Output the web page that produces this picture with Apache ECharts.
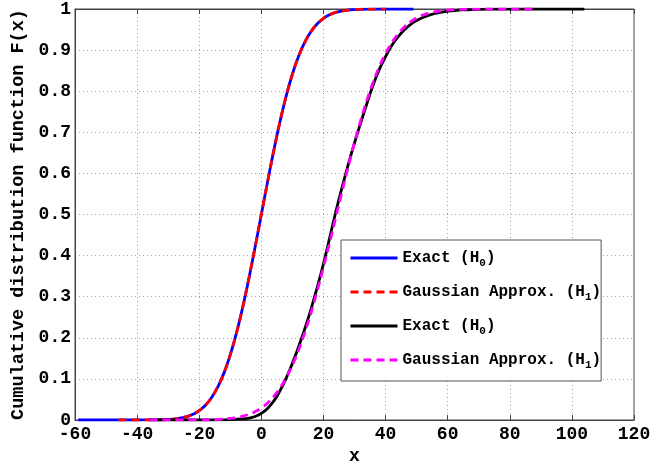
<!DOCTYPE html>
<html>
<head>
<meta charset="utf-8">
<script src="https://cdn.jsdelivr.net/npm/echarts@6/dist/echarts.min.js"></script>
<style>
html,body{margin:0;padding:0;background:#fff;}
#c{width:661px;height:461px;}
</style>
</head>
<body>
<div id="c"></div>
<script>
// ---- data ----
var xTicks = [-60, -40, -20, 0, 20, 40, 60, 80, 100, 120];
var yTicks = [0, 0.1, 0.2, 0.3, 0.4, 0.5, 0.6, 0.7, 0.8, 0.9, 1];

var names = ['Exact (H0)', 'Gaussian Approx. (H1)', 'Exact (H0)\u200b', 'Gaussian Approx. (H1)\u200b'];

// Exact, H0 (blue)
var exactH0X = [-59, -45, -40, -35, -30, -27, -24, -22, -20, -18, -16, -14, -12, -10, -8, -6, -4, -2, 0, 2, 4, 6, 8, 10, 12, 14, 16, 18, 20, 22, 24, 27, 30, 35, 40, 49];
var exactH0Y = [0, 0, 0.00003, 0.0002, 0.0013, 0.0035, 0.0082, 0.0139, 0.0228, 0.0359, 0.0548, 0.0808, 0.1151, 0.1587, 0.2119, 0.2743, 0.3446, 0.4207, 0.5, 0.5793, 0.6554, 0.7257, 0.7881, 0.8413, 0.8849, 0.9192, 0.9452, 0.9641, 0.9772, 0.9861, 0.9918, 0.9965, 0.9987, 0.9998, 1, 1];

// Gaussian approximation, H0 (red dashed)
var gaussH0X = [-46, -40, -35, -30, -27, -24, -22, -20, -18, -16, -14, -12, -10, -8, -6, -4, -2, 0, 2, 4, 6, 8, 10, 12, 14, 16, 18, 20, 22, 24, 27, 30, 35, 40];
var gaussH0Y = [0, 0.00003, 0.0002, 0.0013, 0.0035, 0.0082, 0.014, 0.023, 0.036, 0.055, 0.081, 0.115, 0.159, 0.212, 0.274, 0.345, 0.421, 0.5, 0.579, 0.655, 0.726, 0.788, 0.841, 0.885, 0.919, 0.945, 0.964, 0.977, 0.986, 0.992, 0.9965, 0.9987, 0.9998, 1];

// Exact, H1 (black)
var exactH1X = [-36, -20, -14, -10, -6, -4, -2, 0, 2, 4, 6, 8, 10, 12, 14, 16, 18, 20, 22, 24, 26, 28, 30, 32, 34, 36, 38, 40, 42, 44, 46, 48, 50, 54, 58, 62, 66, 70, 75, 80, 90, 104];
var exactH1Y = [0, 0.00002, 0.0002, 0.0008, 0.0025, 0.0045, 0.0085, 0.016, 0.028, 0.046, 0.071, 0.102, 0.138, 0.178, 0.222, 0.27, 0.323, 0.38, 0.443, 0.507, 0.566, 0.622, 0.674, 0.723, 0.77, 0.815, 0.853, 0.884, 0.911, 0.932, 0.949, 0.962, 0.972, 0.985, 0.9925, 0.9963, 0.9982, 0.9992, 0.9997, 0.9999, 1, 1];

// Gaussian approximation, H1 (magenta dashed)
var gaussH1X = [-36, -20, -14, -10, -8, -6, -4, -2, 0, 2, 4, 6, 8, 10, 12, 14, 16, 18, 20, 22, 24, 26, 28, 30, 32, 34, 36, 38, 40, 42, 44, 46, 48, 50, 52, 54, 56, 58, 60, 65, 70, 75, 88];
var gaussH1Y = [0, 0.0003, 0.0014, 0.0038, 0.0059, 0.0092, 0.0138, 0.0203, 0.0293, 0.0415, 0.0573, 0.0775, 0.1028, 0.1337, 0.1703, 0.2128, 0.2608, 0.3142, 0.3715, 0.4318, 0.4938, 0.5559, 0.6167, 0.6748, 0.7288, 0.7781, 0.8217, 0.8595, 0.8914, 0.9179, 0.939, 0.9557, 0.9685, 0.9781, 0.9851, 0.99, 0.9935, 0.9959, 0.9974, 0.9993, 0.9998, 1, 1];

function pairs(xs, ys) { return xs.map(function (x, i) { return [x, ys[i]]; }); }

var MONO = '"Liberation Mono", "DejaVu Sans Mono", monospace';
var chart = echarts.init(document.getElementById('c'), null, {renderer: 'canvas'});

function lineSeries(name, xs, ys, color, dashed) {
  return {
    name: name,
    type: 'line',
    data: pairs(xs, ys),
    showSymbol: false,
    symbol: 'none',
    smooth: true,
    silent: true,
    lineStyle: {color: color, width: 2.8, type: dashed ? [8, 5] : 'solid'},
    itemStyle: {color: color}
  };
}

var option = {
  animation: false,
  backgroundColor: '#fff',
  grid: {left: 75, right: 27, top: 9, bottom: 41, show: true, borderColor: '#444', borderWidth: 1, backgroundColor: 'transparent', outerBoundsMode: 'none'},
  xAxis: [{
    type: 'value', min: -60, max: 120, interval: 20,
    name: 'x', nameLocation: 'middle', nameGap: 19,
    nameTextStyle: {fontFamily: MONO, fontWeight: 'bold', fontSize: 18, color: '#000'},
    axisLine: {show: true, onZero: false, lineStyle: {color: '#444', width: 1}},
    axisTick: {show: true, inside: true, length: 5, lineStyle: {color: '#444'}},
    axisLabel: {fontFamily: MONO, fontWeight: 'bold', fontSize: 18, color: '#000', margin: 5,
      formatter: function (v) { return xTicks.indexOf(v) >= 0 ? String(v) : ''; }},
    splitLine: {show: true, lineStyle: {color: '#a8a8a8', width: 1, type: [1, 3]}}
  }, {
    type: 'value', position: 'top', min: -60, max: 120, interval: 20,
    axisLine: {show: true, onZero: false, lineStyle: {color: '#444', width: 1}},
    axisLabel: {show: false}, splitLine: {show: false},
    axisTick: {show: true, inside: true, length: 5, lineStyle: {color: '#444'}}
  }],
  yAxis: {
    type: 'value', min: 0, max: 1, interval: 0.1,
    name: 'Cumulative distribution function F(x)', nameLocation: 'middle', nameGap: 44,
    nameTextStyle: {fontFamily: MONO, fontWeight: 'bold', fontSize: 18.5, color: '#000'},
    axisLine: {show: true, onZero: false, lineStyle: {color: '#444', width: 1}},
    axisTick: {show: false},
    axisLabel: {fontFamily: MONO, fontWeight: 'bold', fontSize: 18, color: '#000', margin: 4,
      formatter: function (v) {
        for (var i = 0; i < yTicks.length; i++) { if (Math.abs(yTicks[i] - v) < 1e-9) return String(yTicks[i]); }
        return '';
      }},
    splitLine: {show: true, lineStyle: {color: '#a8a8a8', width: 1, type: [1, 3]}}
  },
  legend: {
    orient: 'vertical', left: 341, top: 240,
    backgroundColor: '#fff', borderColor: '#555', borderWidth: 1,
    padding: [10, 0, 10, 8],
    itemWidth: 47, itemHeight: 14, itemGap: 15,
    selectedMode: false,
    itemStyle: {opacity: 0},
    lineStyle: {width: 3},
    data: names,
    formatter: function (n) {
      var s = n.replace('\u200b', '');
      var m = s.match(/^(.*\(H)(\d)(\))$/);
      return '{t|' + m[1] + '}{s|' + m[2] + '}{t|' + m[3] + '}';
    },
    textStyle: {
      color: '#000', fontFamily: MONO, fontWeight: 'bold', fontSize: 16,
      rich: {
        t: {fontFamily: MONO, fontWeight: 'bold', fontSize: 16, color: '#000', lineHeight: 22, verticalAlign: 'middle'},
        s: {fontFamily: MONO, fontWeight: 'bold', fontSize: 11, color: '#000', lineHeight: 12, verticalAlign: 'bottom'}
      }
    }
  },
  series: [
    lineSeries(names[0], exactH0X, exactH0Y, '#0000ff', false),
    lineSeries(names[1], gaussH0X, gaussH0Y, '#ff0000', true),
    lineSeries(names[2], exactH1X, exactH1Y, '#000000', false),
    lineSeries(names[3], gaussH1X, gaussH1Y, '#ff00ff', true)
  ]
};
chart.setOption(option);
</script>
</body>
</html>
